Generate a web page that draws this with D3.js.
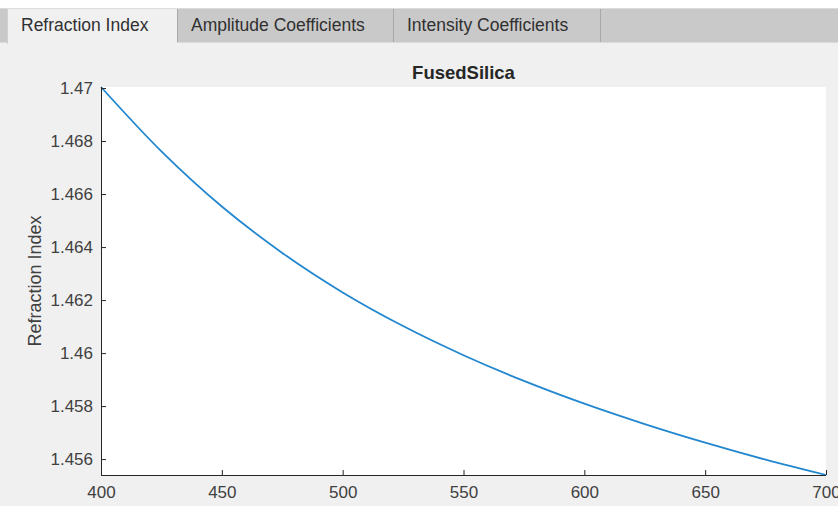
<!DOCTYPE html>
<html>
<head>
<meta charset="utf-8">
<script src="https://cdn.jsdelivr.net/npm/d3@7"></script>
<style>
  body { margin: 0; background: #fff; }
  svg { display: block; font-family: "Liberation Sans", Arial, sans-serif; }
</style>
</head>
<body>
<svg id="chart" width="838" height="506"></svg>
<script>
// wavelength (nm) and refraction index
var wavelengths = [400, 425, 450, 475, 500, 525, 550, 575, 600, 625, 650, 675, 700];
var indexValues = [1.47004, 1.46761, 1.46553, 1.46378, 1.46229, 1.46102, 1.45992, 1.45895, 1.45809, 1.45732, 1.45662, 1.45598, 1.4554];

var xTicks = [400, 450, 500, 550, 600, 650, 700];
var yTicks = [1.456, 1.458, 1.46, 1.462, 1.464, 1.466, 1.468, 1.47];

var tabNames = ["Refraction Index", "Amplitude Coefficients", "Intensity Coefficients"];
var tabEdges = [7, 177, 393, 600];

var svg = d3.select("#chart");
var width = +svg.attr("width");
var height = +svg.attr("height");

// panel background
svg.append("rect")
  .attr("x", 0).attr("y", 8).attr("width", width).attr("height", height - 8)
  .attr("fill", "#f0f0f0");

// tab strip
svg.append("rect")
  .attr("x", 0).attr("y", 8).attr("width", width).attr("height", 34)
  .attr("fill", "#c9c9c9");
svg.append("line")
  .attr("x1", 0).attr("x2", width).attr("y1", 8.5).attr("y2", 8.5)
  .attr("stroke", "#dcdcdc");
svg.append("line")
  .attr("x1", 0).attr("x2", width).attr("y1", 42.5).attr("y2", 42.5)
  .attr("stroke", "#dadada");

tabNames.forEach(function (name, i) {
  var x0 = tabEdges[i], x1 = tabEdges[i + 1];
  if (i === 0) {
    svg.append("rect")
      .attr("x", x0).attr("y", 9).attr("width", x1 - x0).attr("height", 35)
      .attr("fill", "#f0f0f0");
    svg.append("line")
      .attr("x1", x0 + 0.5).attr("x2", x0 + 0.5).attr("y1", 9).attr("y2", 44)
      .attr("stroke", "#d0d0d0");
  }
  svg.append("line")
    .attr("x1", x1 + 0.5).attr("x2", x1 + 0.5).attr("y1", 9).attr("y2", 42)
    .attr("stroke", "#a8a8a8");
  svg.append("text")
    .attr("x", x0 + 14).attr("y", 31)
    .attr("font-size", 17.5)
    .attr("fill", "#303030")
    .text(name);
});

// plot area
var plotLeft = 101, plotRight = 826, plotTop = 87, plotBottom = 475;

var xScale = d3.scaleLinear().domain([400, 700]).range([plotLeft, plotRight]);
var yScale = d3.scaleLinear().domain(d3.extent(indexValues)).range([plotBottom, plotTop]);

svg.append("rect")
  .attr("x", plotLeft).attr("y", plotTop)
  .attr("width", plotRight - plotLeft).attr("height", plotBottom - plotTop)
  .attr("fill", "#fff");

svg.append("path")
  .datum(wavelengths.map(function (w, i) { return [w, indexValues[i]]; }))
  .attr("fill", "none")
  .attr("stroke", "#2287cf")
  .attr("stroke-width", 1.8)
  .attr("d", d3.line()
    .x(function (d) { return xScale(d[0]); })
    .y(function (d) { return yScale(d[1]); })
    .curve(d3.curveMonotoneX));

// axes, MATLAB style ticks point inward
var bottomAxis = d3.axisBottom(xScale).tickValues(xTicks).tickSizeInner(-5).tickSizeOuter(0).tickPadding(11);
var gx = svg.append("g")
  .attr("transform", "translate(0," + plotBottom + ")")
  .call(bottomAxis);

var leftAxis = d3.axisLeft(yScale).tickValues(yTicks).tickFormat(d3.format("")).tickSizeInner(-5).tickSizeOuter(0).tickPadding(8);
var gy = svg.append("g")
  .attr("transform", "translate(" + plotLeft + ",0)")
  .call(leftAxis);

[gx, gy].forEach(function (g) {
  g.select(".domain").attr("stroke", "#262626");
  g.selectAll(".tick line").attr("stroke", "#262626");
  g.selectAll(".tick text")
    .attr("fill", "#404040")
    .attr("font-size", 17)
    .attr("font-family", "Liberation Sans, Arial, sans-serif");
});
gy.select(".domain").attr("d", "M0.5," + plotTop + "V" + (plotBottom + 0.5));
gx.select(".domain").attr("d", "M" + plotLeft + ",0.5H" + plotRight);

// title
svg.append("text")
  .attr("x", (plotLeft + plotRight) / 2).attr("y", 79)
  .attr("text-anchor", "middle")
  .attr("font-size", 18.5)
  .attr("font-weight", "bold")
  .attr("fill", "#262626")
  .text("FusedSilica");

// y-axis label
svg.append("text")
  .attr("transform", "translate(41," + ((plotTop + plotBottom) / 2) + ")rotate(-90)")
  .attr("text-anchor", "middle")
  .attr("font-size", 18)
  .attr("fill", "#404040")
  .text("Refraction Index");
</script>
</body>
</html>
